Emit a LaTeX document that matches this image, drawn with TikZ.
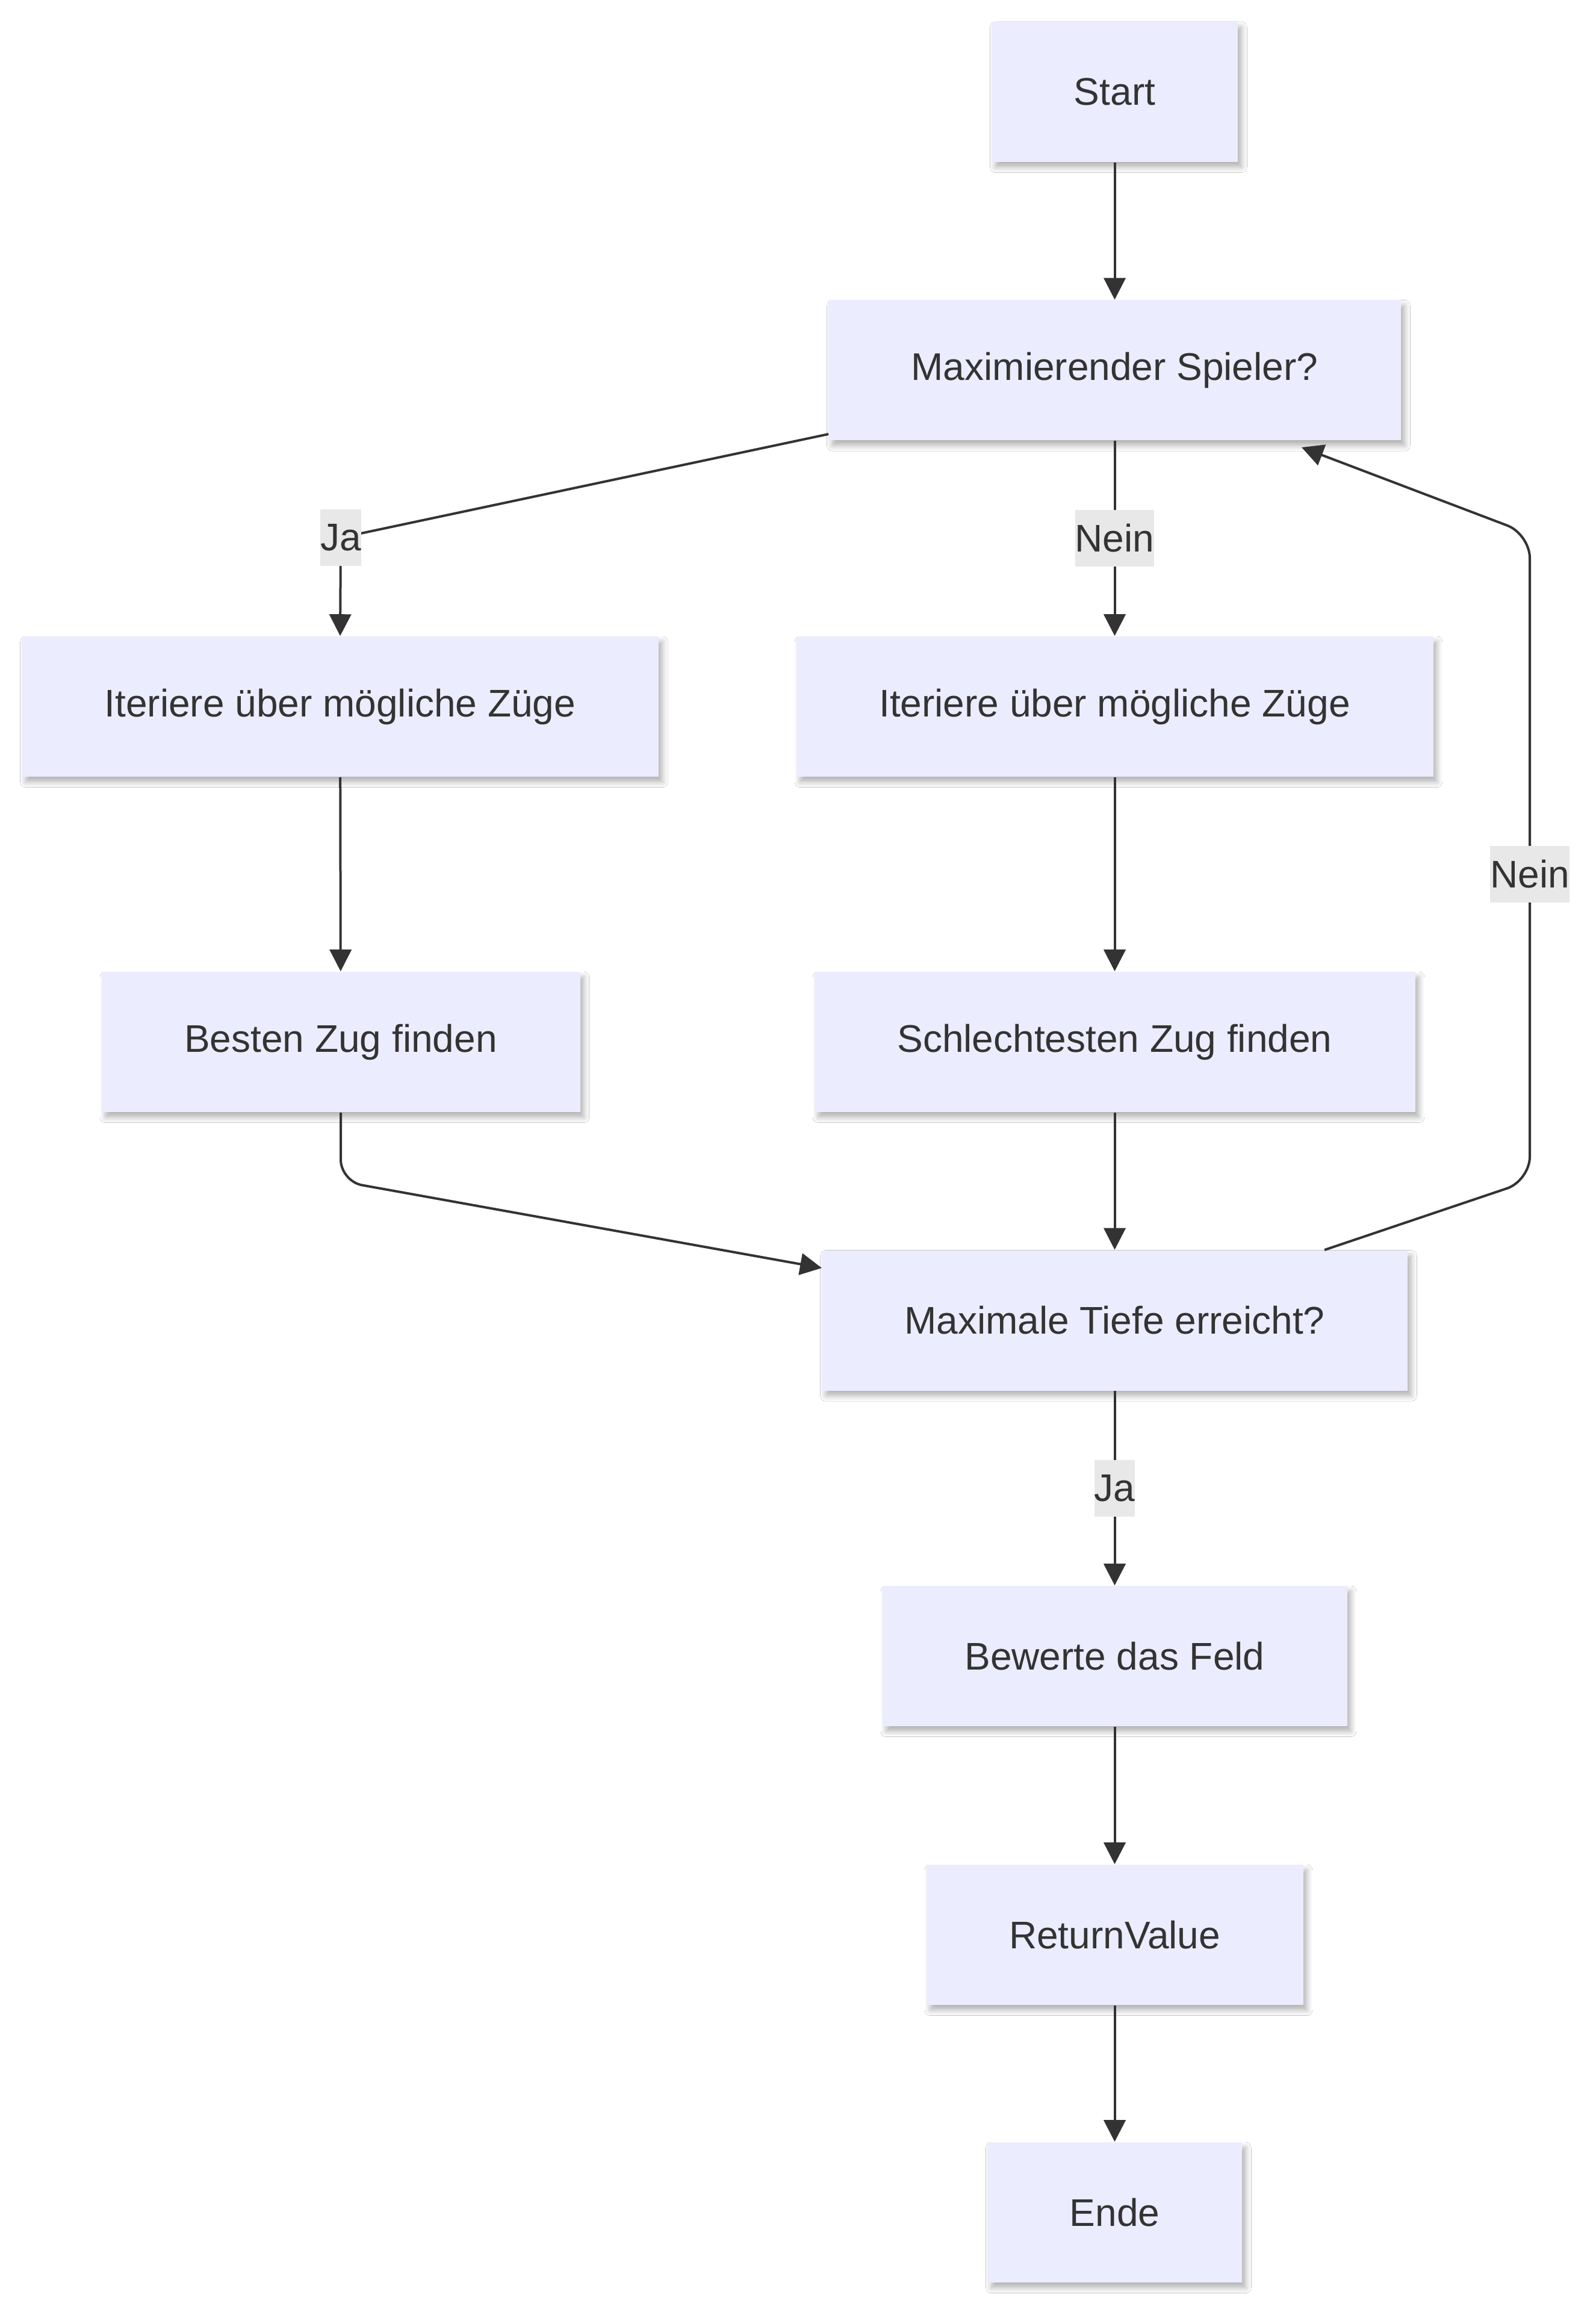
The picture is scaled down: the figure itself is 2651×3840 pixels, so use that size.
\documentclass[tikz,border=0pt]{standalone}
\usepackage{fontspec}
\setmainfont{Liberation Sans}
\usetikzlibrary{arrows.meta,shadows.blur,calc}
\definecolor{nodefill}{HTML}{ECECFF}
\definecolor{txt}{HTML}{333333}
\definecolor{lblfill}{HTML}{E8E8E8}
\begin{document}
\begin{tikzpicture}[x=0.25pt,y=-0.25pt,
  box/.style={rectangle, fill=nodefill, draw=none, text=txt,
    font=\fontsize{16pt}{19pt}\selectfont, minimum height=58.25pt, inner sep=0pt,
    blur shadow={shadow xshift=1.6pt, shadow yshift=-2.2pt, shadow blur steps=8,
      shadow opacity=30, shadow blur radius=2.2pt}},
  lbl/.style={rectangle, fill=lblfill, text=txt, font=\fontsize{16pt}{19pt}\selectfont,
    inner xsep=0pt, inner ysep=0pt, minimum height=23.5pt},
  conn/.style={draw=txt, line width=1pt, -{Triangle[width=9pt,length=9pt]}}]
\useasboundingbox[fill=white] (0,0) rectangle (2651,3840);

\node[box, minimum width=102.25pt] (start) at (1851.5,152.5) {Start};
\node[box, minimum width=237.75pt] (max) at (1851.5,615) {Maximierender Spieler?};
\node[box, minimum width=264.5pt] (iterL) at (565,1173.5) {Iteriere über mögliche Züge};
\node[box, minimum width=264.5pt] (iterR) at (1851.5,1173.5) {Iteriere über mögliche Züge};
\node[box, minimum width=198.75pt] (best) at (566,1730.5) {Besten Zug finden};
\node[box, minimum width=249.5pt] (worst) at (1851.5,1730.5) {Schlechtesten Zug finden};
\node[box, minimum width=243.25pt] (depth) at (1851.5,2193) {Maximale Tiefe erreicht?};
\node[box, minimum width=193pt] (eval) at (1851.5,2750.5) {Bewerte das Feld};
\node[box, minimum width=156.5pt] (ret) at (1851.5,3213.5) {ReturnValue};
\node[box, minimum width=105.75pt] (ende) at (1851.5,3674.5) {Ende};

\coordinate (maxL) at (1376,721);
\coordinate (depthL) at (1365,2106);
\coordinate (depthT) at (2200,2076);
\coordinate (maxB) at (2162,743);

\draw[conn] (start) -- (max);
\draw[conn, rounded corners=5pt] (maxL) -- (566,893) -- (iterL.north);
\draw[conn] (max) -- (iterR);
\draw[conn] (iterL) -- (best);
\draw[conn] (iterR) -- (worst);
\draw[conn, rounded corners=9pt] (best.south) -- (566,1962) -- (depthL);
\draw[conn] (worst) -- (depth);
\draw[conn, rounded corners=10pt] (depthT) -- (2541,1961) -- (2541,887) -- (maxB);
\draw[conn] (depth) -- (eval);
\draw[conn] (eval) -- (ret);
\draw[conn] (ret) -- (ende);

\node[lbl] (l1) at (566,893) {Ja};
\node[lbl] (l2) at (1851.5,894) {Nein};
\node[lbl] (l3) at (2541,1452) {Nein};
\node[lbl] (l4) at (1851.5,2472) {Ja};
\end{tikzpicture}
\end{document}
